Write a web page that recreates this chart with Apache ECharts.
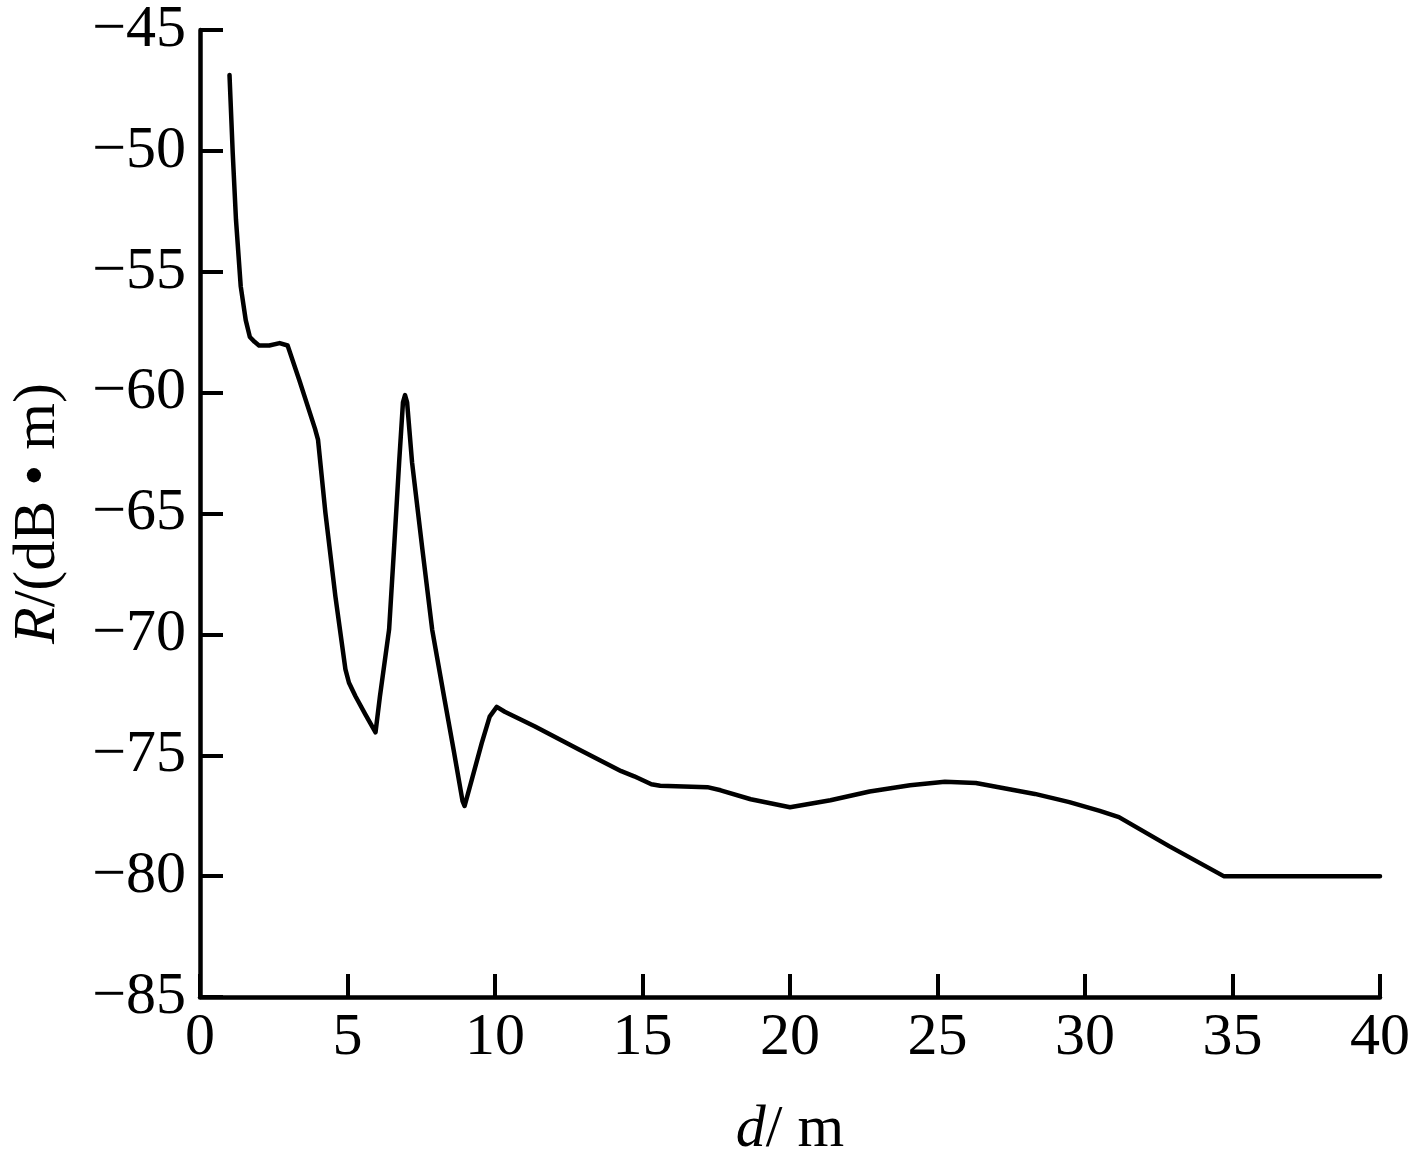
<!DOCTYPE html>
<html>
<head>
<meta charset="utf-8">
<script src="https://cdn.jsdelivr.net/npm/echarts@6/dist/echarts.min.js"></script>
<style>
html,body{margin:0;padding:0;background:#fff;}
#chart{width:1413px;height:1165px;}
</style>
</head>
<body>
<div id="chart"></div>
<script>
var distance = [1.0, 1.11, 1.22, 1.38, 1.55, 1.69, 1.85, 2.0, 2.35, 2.7, 2.97, 3.37, 3.9, 4.0, 4.25, 4.59, 4.93, 5.05, 5.27, 5.6, 5.95, 6.1, 6.41, 6.58, 6.75, 6.88, 6.95, 7.02, 7.19, 7.53, 7.87, 8.27, 8.6, 8.9, 8.97, 9.2, 9.55, 9.82, 10.06, 10.33, 11.34, 12.83, 14.28, 14.72, 15.3, 15.6, 17.2, 17.65, 18.67, 20.0, 21.37, 22.7, 24.07, 25.25, 26.3, 28.3, 29.47, 30.5, 31.15, 32.85, 34.7, 40.0];
var rValue = [-46.86, -50.1, -52.85, -55.6, -57.0, -57.7, -57.9, -58.05, -58.05, -57.95, -58.05, -59.5, -61.5, -61.94, -64.96, -68.43, -71.45, -72.0, -72.56, -73.3, -74.05, -72.56, -69.8, -66.4, -62.9, -60.4, -60.1, -60.4, -62.9, -66.4, -69.8, -72.56, -74.8, -76.9, -77.1, -76.07, -74.5, -73.4, -73.0, -73.2, -73.8, -74.75, -75.66, -75.87, -76.2, -76.26, -76.32, -76.45, -76.82, -77.15, -76.86, -76.5, -76.24, -76.1, -76.15, -76.6, -76.94, -77.3, -77.56, -78.76, -80.0, -80.0];
var xTicks = [0, 5, 10, 15, 20, 25, 30, 35, 40];
var yTicks = [-85, -80, -75, -70, -65, -60, -55, -50, -45];

var pts = distance.map(function (d, i) { return [d, rValue[i]]; });
var font = 'Liberation Serif, Times New Roman, serif';
var fs = 60;
var chart = echarts.init(document.getElementById('chart'), null, {renderer: 'canvas'});
chart.setOption({
  animation: false,
  backgroundColor: '#fff',
  grid: {left: 197, right: 31, top: 30, bottom: 167, containLabel: false},
  xAxis: {
    type: 'value', min: xTicks[0], max: xTicks[xTicks.length - 1], interval: 5,
    name: '{i|d}/ m', nameLocation: 'middle', nameGap: 103,
    nameTextStyle: {fontFamily: font, fontSize: fs, color: '#000',
      rich: {i: {fontFamily: font, fontSize: fs, fontStyle: 'italic', color: '#000'}}},
    axisLine: {show: true, lineStyle: {color: '#000', width: 4.5}},
    axisTick: {show: true, inside: true, length: 23, lineStyle: {color: '#000', width: 4}},
    axisLabel: {fontFamily: font, fontSize: fs, color: '#000', margin: 11},
    splitLine: {show: false}
  },
  yAxis: {
    type: 'value', min: yTicks[0], max: yTicks[yTicks.length - 1], interval: 5,
    name: '{i|R}/(dB \u2022 m)', nameLocation: 'middle', nameGap: 132, nameRotate: 90,
    nameTextStyle: {fontFamily: font, fontSize: fs, color: '#000',
      rich: {i: {fontFamily: font, fontSize: fs, fontStyle: 'italic', color: '#000'}}},
    axisLine: {show: true, lineStyle: {color: '#000', width: 4.5}},
    axisTick: {show: true, inside: true, length: 23, lineStyle: {color: '#000', width: 4}},
    axisLabel: {fontFamily: font, fontSize: fs, color: '#000', margin: 14,
      formatter: function (v) { return v < 0 ? '\u2212' + Math.abs(v) : String(v); }},
    splitLine: {show: false}
  },
  series: [{
    type: 'line', data: pts, showSymbol: false, symbol: 'none', smooth: false,
    lineStyle: {color: '#000', width: 4.5, join: 'round', cap: 'round'}
  }]
});
</script>
</body>
</html>
